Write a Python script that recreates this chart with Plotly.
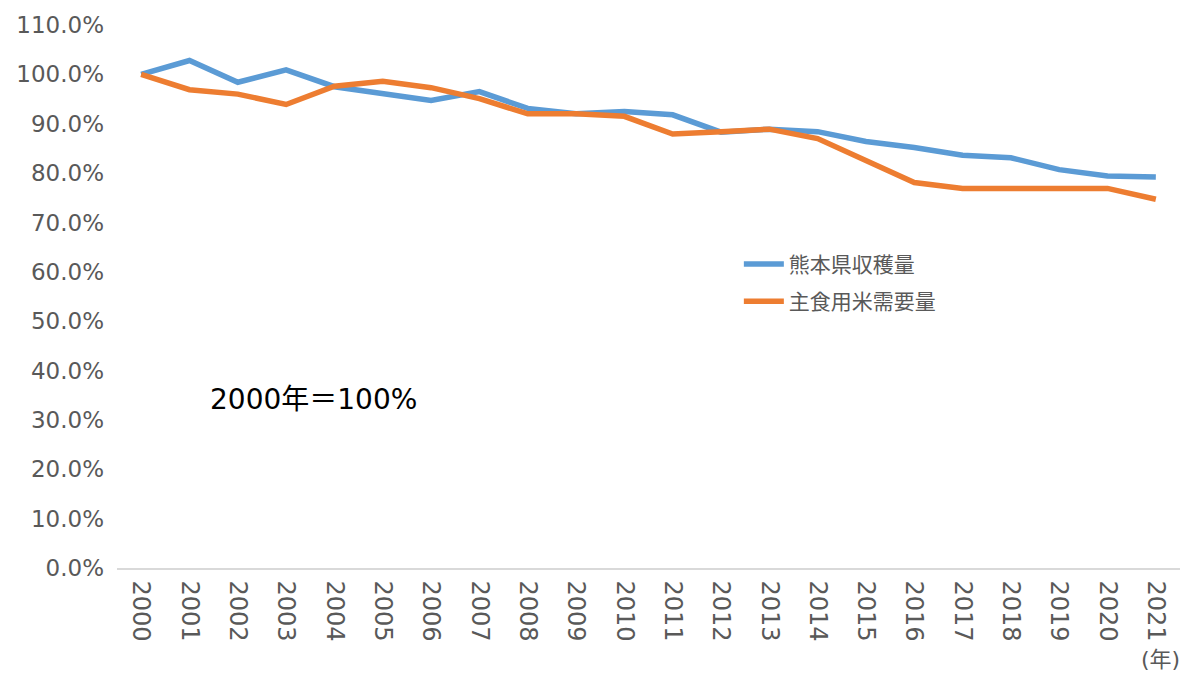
import plotly.graph_objects as go

years = [str(y) for y in range(2000, 2022)]
harvest_pct = [100.0, 102.8, 98.4, 100.9, 97.5, 96.2, 94.7, 96.5, 93.1, 92.0, 92.5, 91.8,
               88.3, 88.9, 88.4, 86.4, 85.2, 83.6, 83.1, 80.7, 79.4, 79.2]
demand_pct = [100.0, 96.9, 96.0, 93.9, 97.6, 98.6, 97.3, 95.1, 92.0, 92.0, 91.5, 87.9,
              88.4, 88.9, 87.0, 82.6, 78.1, 76.9, 76.9, 76.9, 76.9, 74.7]
series_names = ["熊本県収穫量", "主食用米需要量"]
series_colors = ["#5B9BD5", "#ED7D31"]

FONT = "DejaVu Sans, Noto Sans CJK JP"
JFONT = "Noto Sans CJK JP"
GRAY = "#595959"

fig = go.Figure()
for i, (name, vals, col) in enumerate(zip(series_names, [harvest_pct, demand_pct], series_colors)):
    fig.add_trace(go.Scatter(
        x=years, y=[v / 100 for v in vals], name=name, mode="lines",
        legendgroup=f"g{i}",
        line=dict(color=col, width=5.5, shape="linear"),
    ))

fig.update_layout(
    width=1186, height=675,
    margin=dict(l=117, r=6, t=25, b=107),
    paper_bgcolor="white", plot_bgcolor="white",
    font=dict(family=FONT, color=GRAY, size=23),
    showlegend=True,
    legend=dict(x=0.585, y=0.597, xanchor="left", yanchor="top",
                font=dict(size=21, color=GRAY, family=JFONT),
                bgcolor="rgba(0,0,0,0)", itemwidth=40, tracegroupgap=7),
    xaxis=dict(type="category", range=[-0.5, 21.5], tickangle=90, showgrid=False,
               showline=True, linecolor="#D9D9D9", linewidth=1.5, ticks="",
               zeroline=False, automargin=False, ticklabelstandoff=6,
               tickfont=dict(size=24, color=GRAY, family=FONT)),
    yaxis=dict(range=[0, 1.1], dtick=0.1, tickformat=".1%", showgrid=False,
               showline=False, zeroline=False, ticks="", automargin=False,
               ticklabelstandoff=12,
               tickfont=dict(size=23, color=GRAY, family=FONT)),
)

fig.add_annotation(xref="paper", yref="paper", x=0.185, y=0.311, xanchor="center",
                   yanchor="middle", text="2000年＝100%", showarrow=False,
                   font=dict(size=28, color="black", family=FONT))
fig.add_annotation(xref="paper", yref="paper", x=0.982, y=-0.169, xanchor="center",
                   yanchor="middle", text="(年)", showarrow=False,
                   font=dict(size=22, color=GRAY, family=FONT))

fig.write_html("out.html", config={"displayModeBar": False},
               post_script="document.body.style.margin='0';document.body.style.padding='0';")
